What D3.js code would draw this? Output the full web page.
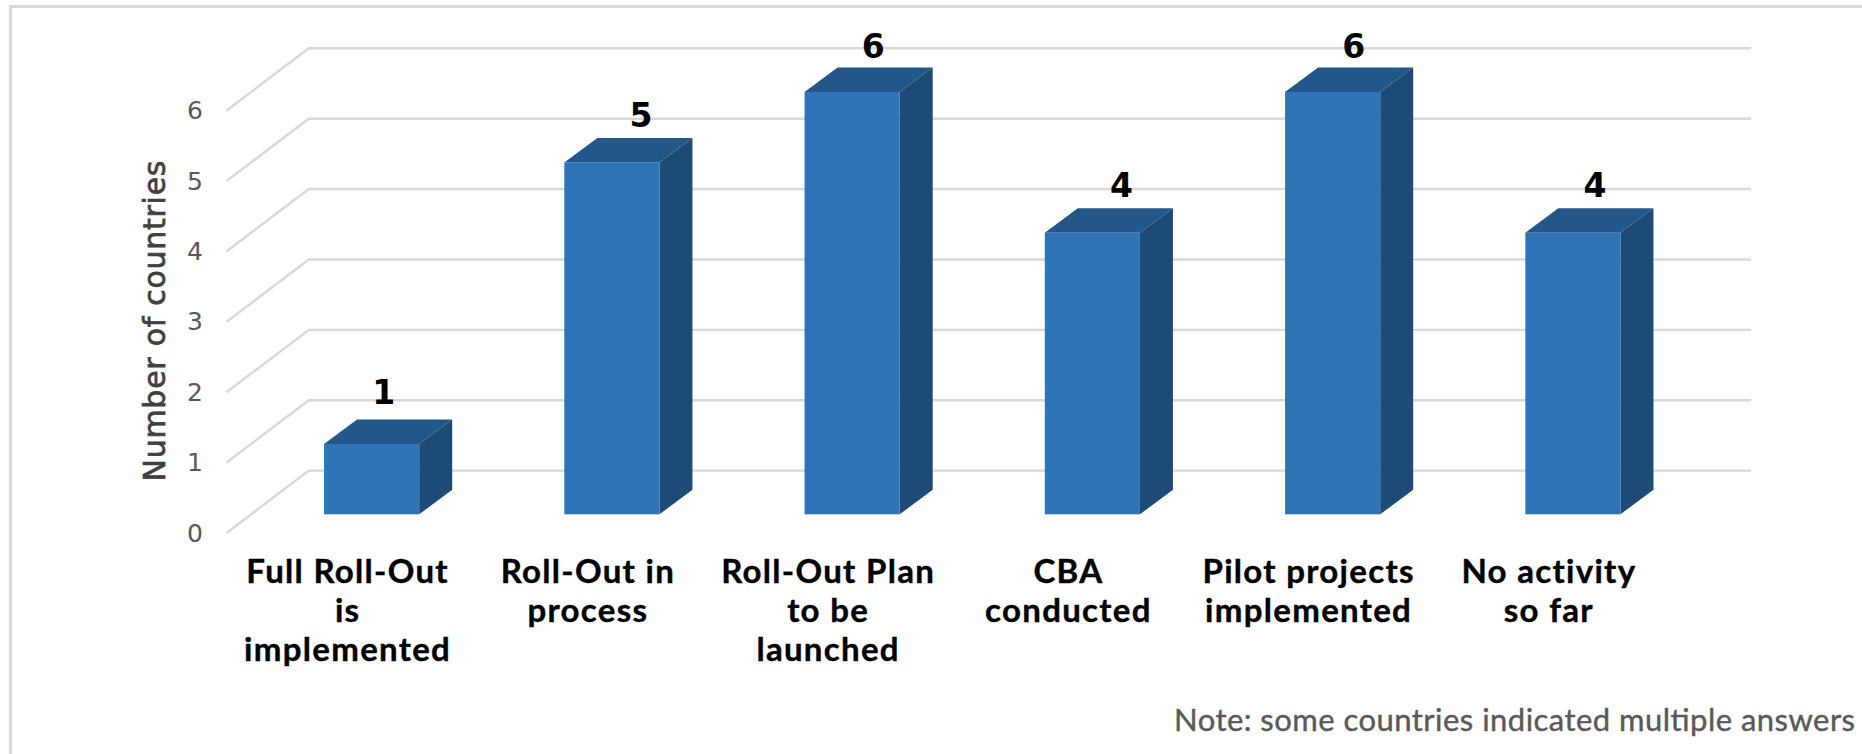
<!DOCTYPE html>
<html>
<head>
<meta charset="utf-8">
<script src="https://cdn.jsdelivr.net/npm/d3@7"></script>
<style>
  html, body { margin: 0; padding: 0; background: #fff; overflow: hidden; }
  svg { display: block; }
  .domain, .tick line { display: none; }
</style>
</head>
<body>
<div id="chart"></div>
<script>
var categories = ["Full Roll-Out|is|implemented", "Roll-Out in|process", "Roll-Out Plan|to be|launched", "CBA|conducted", "Pilot projects|implemented", "No activity|so far"];
var values = [1, 5, 6, 4, 6, 4];
var yTicks = [0, 1, 2, 3, 4, 5, 6];
var yTitle = "Number of countries";
var note = "Note: some countries indicated multiple answers";

var width = 1862, height = 754;

var svg = d3.select("#chart").append("svg")
  .attr("width", width)
  .attr("height", height);

// outer frame, only top and left edges show
svg.append("path")
  .attr("d", "M10.5,754V6.5H1862")
  .attr("fill", "none")
  .attr("stroke", "#d9d9d9")
  .attr("stroke-width", 3);

// back wall of the 3d plot
var yBack = d3.scaleLinear().domain([0, 6]).range([470.6, 48.3]);
// front edge of the floor, where the tick labels sit
var yFront = d3.scaleLinear().domain([0, 6]).range([533, 110.7]);
// front face of the bars
var yBar = d3.scaleLinear().domain([0, 6]).range([514.3, 92]);

var x = d3.scaleBand()
  .domain(d3.range(categories.length))
  .range([251.5, 1693])
  .paddingInner(0.604)
  .paddingOuter(0.302);

var wallLeft = 308.8, wallRight = 1751, floorLeft = 226.5;
var depthX = 33, depthY = 24.5;

// grid
svg.append("g").selectAll("path")
  .data(yTicks)
  .enter()
  .append("path")
    .attr("d", function(d) {
      return "M" + floorLeft + "," + yFront(d) + "L" + wallLeft + "," + yBack(d) + "H" + wallRight;
    })
    .attr("fill", "none")
    .attr("stroke", "#d9d9d9")
    .attr("stroke-width", 2.4);

// y axis labels
var yAxis = svg.append("g")
  .attr("transform", "translate(206,0)")
  .call(d3.axisLeft(yFront).tickValues(yTicks).tickFormat(d3.format("d")).tickSize(0));
yAxis.selectAll("text")
  .attr("font-family", "DejaVu Sans")
  .attr("font-size", 25)
  .attr("fill", "#595959");

svg.append("text")
  .attr("transform", "translate(165,321) rotate(-90)")
  .attr("text-anchor", "middle")
  .attr("font-family", "DejaVu Sans")
  .attr("font-size", 30)
  .attr("fill", "#404040")
  .attr("stroke", "#404040")
  .attr("stroke-width", 0.7)
  .attr("textLength", 321)
  .text(yTitle);

// bars
var bars = svg.append("g").selectAll("g")
  .data(values)
  .enter()
  .append("g");

bars.append("path")
  .attr("d", function(d, i) {
    var x0 = x(i), x1 = x(i) + x.bandwidth(), top = yBar(d);
    return "M" + x0 + "," + top + "L" + (x0 + depthX) + "," + (top - depthY) + "H" + (x1 + depthX) + "L" + x1 + "," + top + "Z";
  })
  .attr("fill", "#23578a");

bars.append("path")
  .attr("d", function(d, i) {
    var x1 = x(i) + x.bandwidth(), top = yBar(d), bottom = yBar(0);
    return "M" + x1 + "," + top + "L" + (x1 + depthX) + "," + (top - depthY) + "V" + (bottom - depthY) + "L" + x1 + "," + bottom + "Z";
  })
  .attr("fill", "#1d4a76");

bars.append("rect")
  .attr("x", function(d, i) { return x(i); })
  .attr("y", function(d) { return yBar(d); })
  .attr("width", x.bandwidth())
  .attr("height", function(d) { return yBar(0) - yBar(d); })
  .attr("fill", "#2f74b7");

// value labels sit a bit off centre in the original
var labelNudge = [12, 29, 21, 29, 21, 22];
var labelLift = [5, 1, 0, 1, 0, 1];

bars.append("text")
  .attr("x", function(d, i) { return x(i) + x.bandwidth() / 2 + labelNudge[i]; })
  .attr("y", function(d, i) { return yBar(d) - depthY - 10 - labelLift[i]; })
  .attr("text-anchor", "middle")
  .attr("font-family", "DejaVu Sans")
  .attr("font-weight", "bold")
  .attr("font-size", 33)
  .attr("fill", "#000")
  .text(function(d) { return d; });

// category labels, split on | for the line breaks
var labels = svg.append("g").selectAll("text")
  .data(categories)
  .enter()
  .append("text")
    .attr("text-anchor", "middle")
    .attr("font-family", "Lato")
    .attr("font-weight", "bold")
    .attr("font-size", 33)
    .attr("letter-spacing", 1.3)
    .attr("fill", "#000")
    .attr("stroke", "#000")
    .attr("stroke-width", 0.4);

labels.each(function(d, i) {
  var cx = x(i) + x.bandwidth() / 2 - 24;
  d3.select(this).selectAll("tspan")
    .data(d.split("|"))
    .enter()
    .append("tspan")
      .attr("x", cx)
      .attr("y", function(line, j) { return 582.7 + j * 39; })
      .text(function(line) { return line; });
});

svg.append("text")
  .attr("x", 1174)
  .attr("y", 731)
  .attr("font-family", "Lato")
  .attr("font-size", 31)
  .attr("fill", "#595959")
  .attr("stroke", "#595959")
  .attr("stroke-width", 0.4)
  .attr("textLength", 681)
  .text(note);
</script>
</body>
</html>
